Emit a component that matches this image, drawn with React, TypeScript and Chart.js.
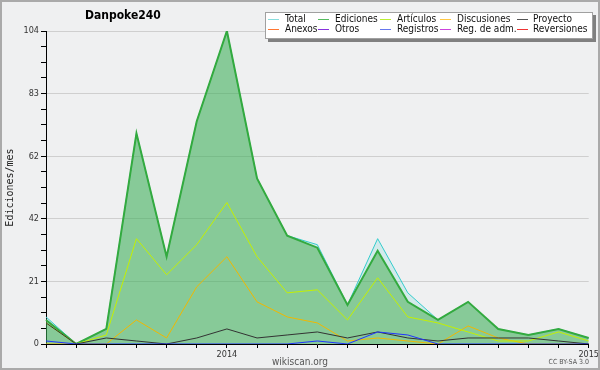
import React, { useEffect, useRef } from "react";
import { Chart, registerables } from "chart.js";

Chart.register(...registerables);

const months = [
  "2013-07", "2013-08", "2013-09", "2013-10", "2013-11", "2013-12",
  "2014-01", "2014-02", "2014-03", "2014-04", "2014-05", "2014-06",
  "2014-07", "2014-08", "2014-09", "2014-10", "2014-11", "2014-12", "2015-01",
];
const yearLabels: Record<string, string> = { "2014-01": "2014", "2015-01": "2015" };

const total = [9, 0, 5, 70, 29, 74, 104, 55, 36, 33, 13, 35, 17, 8, 14, 5, 3, 5, 2];
const ediciones = [8, 0, 5, 70, 29, 74, 104, 55, 36, 32, 13, 31, 14, 8, 14, 5, 3, 5, 2];
const articulos = [7, 0, 3, 35, 23, 33, 47, 29, 17, 18, 8, 22, 9, 7, 4, 1, 1, 4, 1];
const discusiones = [0, 0, 0, 8, 2, 19, 29, 14, 9, 7, 1, 2, 1, 0, 6, 2, 0, 0, 0];
const proyecto = [7, 0, 2, 1, 0, 2, 5, 2, 3, 4, 2, 4, 2, 1, 2, 2, 2, 1, 0];
const anexos: number[] = [];
const otros: number[] = [];
const registros = [1, 0, 0, 0, 0, 0, 0, 0, 0, 1, 0, 4, 3, 0, 0, 0, 0, 0, 0];
const regAdm: number[] = [];
const reversiones: number[] = [];

const yMax = 104;
const yMinorDivisions = 20;

const FONT = "'DejaVu Sans Condensed', 'DejaVu Sans', sans-serif";

const overlay = {
  id: "overlay",
  beforeDraw(chart: any) {
    const ctx = chart.ctx;
    ctx.save();
    ctx.fillStyle = "#eff0f1";
    ctx.fillRect(0, 0, chart.width, chart.height);
    ctx.restore();
  },
  afterDraw(chart: any) {
    const ctx = chart.ctx;
    ctx.save();
    // title
    ctx.fillStyle = "#000";
    ctx.font = `bold 12px ${FONT}`;
    ctx.textBaseline = "alphabetic";
    ctx.textAlign = "left";
    ctx.fillText("Danpoke240", 85, 19);

    // legend
    const bx = 265, by = 12, bw = 328, bh = 27;
    ctx.fillStyle = "#808080";
    ctx.fillRect(bx + 3, by + 3, bw, bh);
    ctx.fillStyle = "#ffffff";
    ctx.fillRect(bx, by, bw, bh);
    ctx.strokeStyle = "#a0a0a0";
    ctx.lineWidth = 1;
    ctx.strokeRect(bx + 0.5, by + 0.5, bw - 1, bh - 1);
    const colLine = [268, 318, 380, 440, 517];
    const colText = [285, 335, 397, 457, 533];
    const rowY = [19, 29];
    ctx.font = `10px ${FONT}`;
    ctx.textBaseline = "middle";
    chart.data.datasets.forEach((ds: any, i: number) => {
      const r = Math.floor(i / 5), c = i % 5;
      const y = rowY[r];
      ctx.strokeStyle = ds.legendColor;
      ctx.lineWidth = 1;
      ctx.beginPath();
      ctx.moveTo(colLine[c], y + 0.5);
      ctx.lineTo(colLine[c] + 11, y + 0.5);
      ctx.stroke();
      ctx.fillStyle = "#111";
      ctx.fillText(ds.label, colText[c], y + 0.5);
    });

    // footer
    ctx.fillStyle = "#555";
    ctx.font = `10px ${FONT}`;
    ctx.textAlign = "center";
    ctx.fillText("wikiscan.org", 300, 362);
    ctx.font = `7px ${FONT}`;
    ctx.textAlign = "right";
    ctx.fillText("CC BY-SA 3.0", 589, 362);

    // border
    ctx.strokeStyle = "#aaaaaa";
    ctx.lineWidth = 2;
    ctx.strokeRect(1, 1, chart.width - 2, chart.height - 2);
    ctx.restore();
  },
};

function line(label: string, data: number[], color: string, legendColor: string, order: number, extra: any = {}) {
  return {
    label,
    data,
    borderColor: color,
    backgroundColor: color,
    legendColor,
    borderWidth: 1,
    pointRadius: 0,
    tension: 0,
    fill: false,
    order,
    ...extra,
  };
}

export default function App() {
  const ref = useRef<HTMLCanvasElement>(null);
  useEffect(() => {
    if (!ref.current) return;
    const chart = new Chart(ref.current, {
      type: "line",
      data: {
        labels: months,
        datasets: [
          line("Total", total, "#33cccc", "#88dddd", 10, { fill: "origin", backgroundColor: "rgba(51,204,204,0.15)" }),
          line("Ediciones", ediciones, "#33aa3f", "#55bb5f", 9, { fill: "origin", backgroundColor: "rgba(60,170,70,0.5)", borderWidth: 2 }),
          line("Artículos", articulos, "#c4f000", "#bbee33", 7, {}),
          line("Discusiones", discusiones, "#f0b800", "#ffc844", 8, {}),
          line("Proyecto", proyecto, "#333333", "#555555", 6, {}),
          line("Anexos", anexos, "#ff7733", "#ff7733", 5, {}),
          line("Otros", otros, "#8833dd", "#8833dd", 4, {}),
          line("Registros", registros, "#2233ff", "#6677ee", 3, {}),
          line("Reg. de adm.", regAdm, "#cc44dd", "#cc44dd", 2, {}),
          line("Reversiones", reversiones, "#ee3333", "#ee3333", 1, {}),
        ] as any,
      },
      plugins: [overlay],
      options: {
        animation: false,
        responsive: false,
        devicePixelRatio: 1,
        layout: { padding: { left: 0, right: 10, top: 31, bottom: 0 } },
        plugins: {
          legend: { display: false },
          tooltip: { enabled: false },
          title: { display: false },
        },
        scales: {
          x: {
            z: 1,
            grid: {
              drawOnChartArea: false,
              drawTicks: true,
              tickLength: 4,
              tickColor: "#000",
            },
            border: { color: "#000", width: 1 },
            ticks: {
              autoSkip: false,
              maxRotation: 0,
              minRotation: 0,
              padding: 1,
              color: "#333",
              font: { family: FONT, size: 9 },
              callback: (_v: any, i: number) => yearLabels[months[i]] || "",
            },
            afterFit: (s: any) => {
              s.height = 26;
            },
          },
          y: {
            z: 1,
            min: 0,
            max: yMax,
            afterBuildTicks: (s: any) => {
              const t = [];
              for (let i = 0; i <= yMinorDivisions; i++) t.push({ value: (yMax * i) / yMinorDivisions });
              s.ticks = t;
            },
            grid: {
              color: (c: any) => (c.index % 4 === 0 && c.index !== 0 ? "#cfcfcf" : "rgba(0,0,0,0)"),
              tickColor: "#000",
              tickLength: 5,
              drawTicks: true,
            },
            border: { color: "#000", width: 1 },
            ticks: {
              padding: 2,
              color: "#333",
              font: { family: FONT, size: 9 },
              callback: (v: any, i: number) => (i % 4 === 0 ? String(Math.round(Number(v))) : ""),
            },
            title: {
              display: true,
              text: "Ediciones/mes",
              color: "#222",
              font: { family: "'DejaVu Sans Mono', monospace", size: 10 },
              padding: { top: 4, bottom: 0 },
            },
            afterFit: (s: any) => {
              s.width = 46;
            },
          },
        },
      },
    });
    return () => chart.destroy();
  }, []);
  return (
    <div style={{ position: "fixed", left: 0, top: 0, width: 600, height: 370 }}>
      <canvas ref={ref} width={600} height={370} style={{ width: 600, height: 370 }} />
    </div>
  );
}
